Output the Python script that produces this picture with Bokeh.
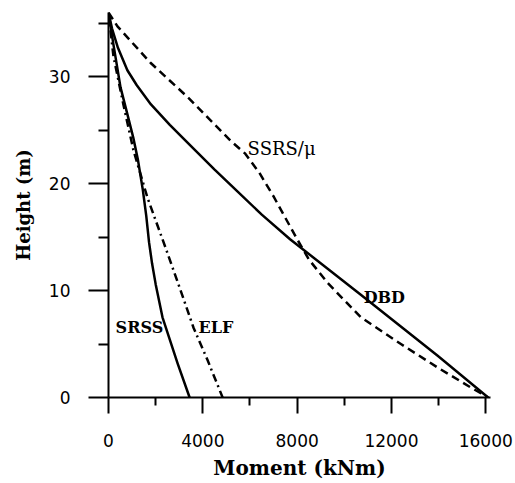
from bokeh.plotting import figure
from bokeh.models import Range1d, FixedTicker, Label
from bokeh.embed import file_html
from bokeh.resources import INLINE

# Moment (kNm) vs Height (m)
dbd_moment = [0, 150, 400, 800, 1200, 1800, 2600, 3500, 4500, 5500, 6500, 7700, 10700, 13960, 16100]
dbd_height = [36, 34.5, 32.7, 30.6, 29.2, 27.4, 25.5, 23.5, 21.3, 19.2, 17.1, 14.8, 9.6, 3.9, 0]

ssrs_moment = [0, 380, 1780, 3400, 5180, 5800, 6400, 7000, 7500, 8000, 8500, 9300, 10700, 12400, 13960, 15370, 16100]
ssrs_height = [36, 34.7, 31.3, 28.0, 24.0, 22.8, 21.0, 18.8, 16.8, 14.8, 12.9, 10.7, 7.5, 5.0, 2.8, 0.93, 0]

srss_moment = [0, 210, 510, 800, 1050, 1250, 1450, 1600, 1720, 1850, 2000, 2290, 2930, 3440]
srss_height = [36, 33.0, 29.0, 26.5, 24.3, 22.2, 19.5, 17.0, 14.5, 12.5, 10.6, 7.5, 3.2, 0]

elf_moment = [0, 210, 640, 1060, 1650, 2420, 3060, 3610, 4200, 4840]
elf_height = [36, 31.9, 27.3, 23.1, 18.7, 14.0, 10.0, 6.5, 3.5, 0]

x_ticks = [0, 4000, 8000, 12000, 16000]
x_minor = [2000, 6000, 10000, 14000]
y_ticks = [0, 10, 20, 30]
y_minor = [5, 15, 25, 35]

p = figure(width=515, height=483, output_backend="svg", toolbar_location=None,
           x_range=Range1d(0, 16200), y_range=Range1d(0, 36),
           min_border_left=108, min_border_right=25, min_border_top=12, min_border_bottom=86)
p.outline_line_color = None
p.grid.visible = False
p.background_fill_color = "white"

lw = 2.5
p.line(dbd_moment, dbd_height, line_color="black", line_width=lw, line_join="round")
p.line(ssrs_moment, ssrs_height, line_color="black", line_width=lw, line_dash="8 5", line_join="round")
p.line(srss_moment, srss_height, line_color="black", line_width=lw, line_join="round")
p.line(elf_moment, elf_height, line_color="black", line_width=lw, line_dash="8 4 2 4", line_join="round")

for ax in (p.xaxis[0], p.yaxis[0]):
    ax.axis_line_width = 2
    ax.major_tick_line_width = 2
    ax.minor_tick_line_width = 2
    ax.major_tick_in = 0
    ax.minor_tick_in = 0
    ax.major_label_text_font = "DejaVu Sans"
    ax.major_label_text_font_size = "17px"
    ax.major_label_text_color = "black"
    ax.axis_label_text_font = "DejaVu Serif"
    ax.axis_label_text_font_style = "bold"
    ax.axis_label_text_color = "black"

p.xaxis.ticker = FixedTicker(ticks=x_ticks, minor_ticks=x_minor)
p.yaxis.ticker = FixedTicker(ticks=y_ticks, minor_ticks=y_minor)
p.xaxis.major_tick_out = 16
p.xaxis.minor_tick_out = 8
p.yaxis.major_tick_out = 20
p.yaxis.minor_tick_out = 10
p.xaxis.major_label_standoff = 20
p.yaxis.major_label_standoff = 18
p.xaxis.axis_label = "Moment (kNm)"
p.yaxis.axis_label = "Height (m)"
p.xaxis.axis_label_text_font_size = "20px"
p.yaxis.axis_label_text_font_size = "18px"
p.xaxis.axis_label_standoff = 6
p.yaxis.axis_label_standoff = 12

def add_label(x, y, txt, bold, size="16px"):
    p.add_layout(Label(x=x, y=y, text=txt, text_font="DejaVu Serif",
                       text_font_size=size, text_color="black",
                       text_font_style="bold" if bold else "normal",
                       text_baseline="alphabetic"))

add_label(5900, 23.3, "SSRS/μ", False, "18px")
add_label(10820, 9.33, "DBD", True)
add_label(300, 6.5, "SRSS", True)
add_label(3820, 6.5, "ELF", True)

open("out.html", "w").write(file_html(p, INLINE))
